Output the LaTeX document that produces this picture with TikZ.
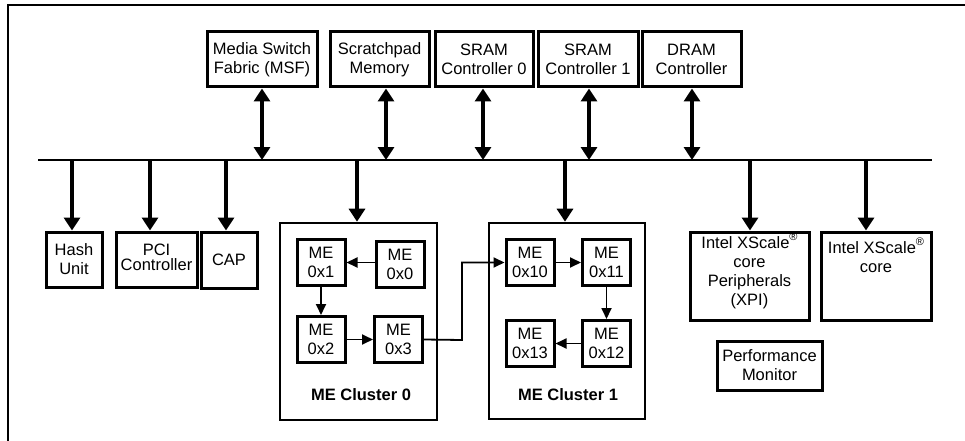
\documentclass[tikz,border=0pt]{standalone}
\usepackage{fontspec}
\setmainfont{Liberation Sans}
\usetikzlibrary{arrows.meta}
\newcommand{\regmark}{\smash{\raisebox{0.5em}{\fontsize{11}{11}\selectfont ®}}}
\begin{document}
\begin{tikzpicture}[x=1pt,y=-1pt,
  every node/.style={font=\fontsize{16.5}{19}\selectfont, align=center, inner sep=0pt},
  box/.style={draw, line width=3pt, inner sep=0pt},
  mebox/.style={draw, line width=3pt, minimum width=48pt, minimum height=46pt},
  clbox/.style={draw, line width=2.6pt},
  dbl/.style={line width=3.4pt, {Triangle[width=16pt,length=13pt]}-{Triangle[width=16pt,length=13pt]}},
  sgl/.style={line width=3.4pt, -{Triangle[width=16pt,length=13pt]}},
  thin/.style={line width=1.8pt, -{Triangle[width=10pt,length=11pt]}}
]
\useasboundingbox (0,0) rectangle (965,441);
% frame
\draw[line width=2.4pt] (8,441) -- (8,5) -- (965,5);
% bus
\coordinate (busL) at (38,160);
\coordinate (busR) at (932,160);
\draw[line width=2pt] (busL) -- (busR);

% top boxes
\node[box, minimum width=110pt, minimum height=55pt] (msf) at (262,59.5) {Media Switch\\Fabric (MSF)};
\node[box, minimum width=99pt, minimum height=55pt] (scr) at (379.5,59.5) {Scratchpad\\Memory};
\node[box, minimum width=98pt, minimum height=55pt] (sram0) at (484,59.5) {SRAM\\Controller 0};
\node[box, minimum width=100pt, minimum height=55pt] (sram1) at (588,59.5) {SRAM\\Controller 1};
\node[box, minimum width=99pt, minimum height=55pt] (dram) at (691.5,59.5) {DRAM\\Controller};

\draw[dbl] (msf.south) -- (msf.south |- busL);
\draw[dbl] ([xshift=6.5pt]scr.south) -- ([xshift=6.5pt]scr.south |- busL);
\draw[dbl] ([xshift=-1pt]sram0.south) -- ([xshift=-1pt]sram0.south |- busL);
\draw[dbl] ([xshift=1pt]sram1.south) -- ([xshift=1pt]sram1.south |- busL);
\draw[dbl] ([xshift=0.5pt]dram.south) -- ([xshift=0.5pt]dram.south |- busL);

% bottom boxes
\node[box, minimum width=56pt, minimum height=55pt] (hash) at (74,259.5) {Hash\\Unit};
\node[box, minimum width=81pt, minimum height=55pt] (pci) at (156.5,259.5) {\raisebox{4pt}{\shortstack{PCI\\Controller}}};
\node[box, minimum width=56pt, minimum height=56pt] (cap) at (229,260) {CAP};
\node[clbox, minimum width=157pt, minimum height=197pt] (cl0) at (358.5,321.5) {};
\node[clbox, minimum width=156pt, minimum height=196pt] (cl1) at (567,321) {};
\node[box, minimum width=119pt, minimum height=88pt] (xpi) at (749.5,276) {};
\node[box, minimum width=110pt, minimum height=88pt] (xcore) at (876,276) {};
\node[box, minimum width=105pt, minimum height=49pt] (perf) at (769.5,365.5) {Performance\\Monitor};

\node[anchor=north] (xpitext) at ([yshift=-6pt]xpi.north) {Intel XScale\regmark\\core\\Peripherals\\(XPI)};
\node[anchor=north] (xcoretext) at ([yshift=-11pt]xcore.north) {Intel XScale\regmark\\core};

\draw[sgl] ([xshift=-2pt]hash.north |- busL) -- ([xshift=-2pt]hash.north);
\draw[sgl] ([xshift=-6.5pt]pci.north |- busL) -- ([xshift=-6.5pt]pci.north);
\draw[sgl] ([xshift=-3pt]cap.north |- busL) -- ([xshift=-3pt]cap.north);
\draw[sgl] ([xshift=-1.5pt]cl0.north |- busL) -- ([xshift=-1.5pt]cl0.north);
\draw[sgl] ([xshift=-2pt]cl1.north |- busL) -- ([xshift=-2pt]cl1.north);
\draw[sgl] ([xshift=0.5pt]xpi.north |- busL) -- ([xshift=0.5pt]xpi.north);
\draw[sgl] ([xshift=-10pt]xcore.north |- busL) -- ([xshift=-10pt]xcore.north);

% ME cluster 0
\node[mebox] (me1) at (321,262.5) {ME\\0x1};
\node[mebox] (me0) at (400,264) {ME\\0x0};
\node[mebox] (me2) at (321,339.5) {ME\\0x2};
\node[mebox] (me3) at (398.5,339.5) {ME\\0x3};
\node[font=\fontsize{16.5}{19}\selectfont\bfseries] (cl0lab) at (361,395) {ME Cluster 0};

% ME cluster 1
\node[mebox] (me10) at (530,262.5) {ME\\0x10};
\node[mebox] (me11) at (606.5,262.5) {ME\\0x11};
\node[mebox] (me13) at (530,343.5) {ME\\0x13};
\node[mebox] (me12) at (606.5,343.5) {ME\\0x12};
\node[font=\fontsize{16.5}{19}\selectfont\bfseries] (cl1lab) at (568,395) {ME Cluster 1};

\draw[thin] (me0.west |- me1.east) -- (me1.east);
\draw[thin] (me1.south) -- (me2.north);
\draw[thin] (me2.east) -- (me2.east -| me3.west);
\coordinate (jog) at (462,340);
\draw[thin] (me3.east) -- (jog) |- (me10.west);
\draw[thin] (me10.east) -- (me11.west);
\draw[thin] (me11.south) -- (me12.north);
\draw[thin] (me12.west) -- (me13.east);
\end{tikzpicture}
\end{document}
